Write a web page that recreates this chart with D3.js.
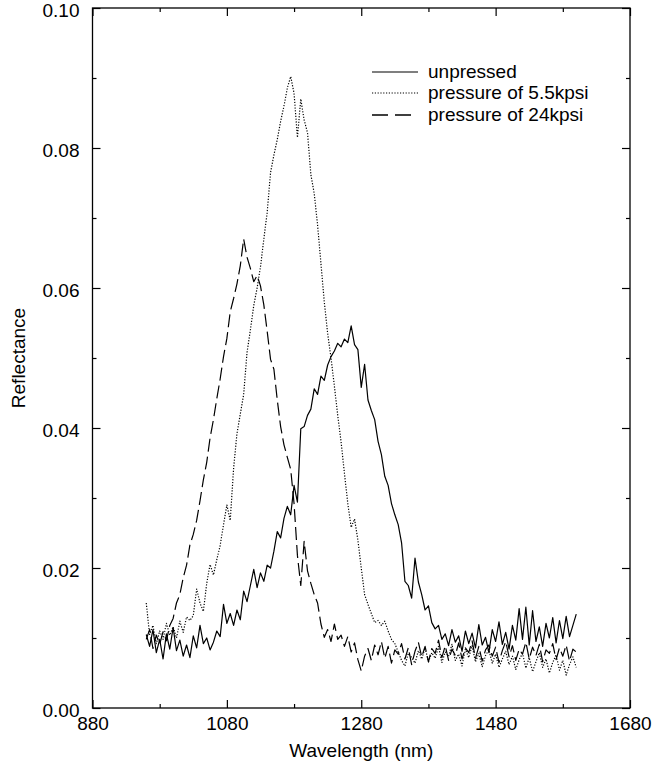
<!DOCTYPE html>
<html>
<head>
<meta charset="utf-8">
<script src="https://cdn.jsdelivr.net/npm/d3@7"></script>
<style>
  html, body { margin: 0; padding: 0; background: #fff; }
  svg text { font-family: "Liberation Sans", Arial, Helvetica, sans-serif; fill: #000; }
</style>
</head>
<body>
<svg id="chart" width="652" height="766"></svg>
<script>
// ---- data ----
const wavelengths = [
  960,965,970,975,980,985,990,995,1000,1005,
  1010,1015,1020,1025,1030,1035,1040,1045,1050,1055,
  1060,1065,1070,1075,1080,1085,1090,1095,1100,1105,
  1110,1115,1120,1125,1130,1135,1140,1145,1150,1155,
  1160,1165,1170,1175,1180,1185,1190,1195,1200,1205,
  1210,1215,1220,1225,1230,1235,1240,1245,1250,1255,
  1260,1265,1270,1275,1280,1285,1290,1295,1300,1305,
  1310,1315,1320,1325,1330,1335,1340,1345,1350,1355,
  1360,1365,1370,1375,1380,1385,1390,1395,1400,1405,
  1410,1415,1420,1425,1430,1435,1440,1445,1450,1455,
  1460,1465,1470,1475,1480,1485,1490,1495,1500,1505,
  1510,1515,1520,1525,1530,1535,1540,1545,1550,1555,
  1560,1565,1570,1575,1580,1585,1590,1595,1600
];
const unpressed = [
  .0105,.0088,.0112,.0079,.0098,.0070,.0106,.0084,.0115,.0082,
  .0097,.0074,.0090,.0072,.0103,.0086,.0118,.0092,.0100,.0083,
  .0094,.0110,.0102,.0148,.0121,.0135,.0118,.0140,.0126,.0167,
  .0152,.0175,.0198,.0172,.0193,.0181,.0204,.0200,.0224,.0252,
  .0243,.0271,.0288,.0276,.0318,.0294,.0399,.0402,.0418,.0427,
  .0456,.0448,.0474,.0468,.0490,.0502,.0510,.0521,.0516,.0527,
  .0522,.0546,.0519,.0512,.0458,.0491,.0440,.0425,.0412,.0381,
  .0362,.0331,.0318,.0292,.0276,.0262,.0236,.0181,.0175,.0157,
  .0214,.0180,.0162,.0140,.0146,.0122,.0113,.0118,.0098,.0106,
  .0089,.0112,.0094,.0103,.0081,.0110,.0092,.0107,.0086,.0119,
  .0090,.0101,.0079,.0112,.0095,.0123,.0091,.0108,.0084,.0118,
  .0097,.0142,.0098,.0144,.0090,.0139,.0095,.0116,.0088,.0121,
  .0100,.0129,.0093,.0125,.0099,.0131,.0102,.0118,.0134
];
const pressure5_5 = [
  .0150,.0105,.0118,.0092,.0110,.0098,.0121,.0104,.0116,.0100,
  .0124,.0108,.0130,.0125,.0132,.0170,.0150,.0138,.0178,.0205,
  .0190,.0212,.0232,.0262,.0290,.0268,.0342,.0392,.0420,.0448,
  .0508,.0540,.0575,.0600,.0630,.0670,.0708,.0765,.0790,.0812,
  .0838,.0860,.0886,.0902,.0878,.0815,.0870,.0840,.0822,.0762,
  .0735,.0690,.0635,.0580,.0535,.0500,.0460,.0418,.0380,.0335,
  .0292,.0258,.0270,.0240,.0200,.0162,.0148,.0135,.0122,.0125,
  .0118,.0124,.0110,.0098,.0092,.0080,.0068,.0060,.0078,.0072,
  .0064,.0082,.0070,.0086,.0066,.0079,.0071,.0088,.0065,.0080,
  .0074,.0091,.0068,.0077,.0060,.0084,.0072,.0089,.0066,.0078,
  .0059,.0075,.0083,.0064,.0077,.0058,.0070,.0081,.0062,.0074,
  .0055,.0069,.0078,.0057,.0072,.0052,.0066,.0079,.0058,.0070,
  .0050,.0065,.0076,.0054,.0068,.0047,.0062,.0073,.0058
];
const pressure24 = [
  .0098,.0112,.0085,.0104,.0091,.0109,.0096,.0118,.0128,.0150,
  .0162,.0186,.0204,.0233,.0248,.0268,.0296,.0326,.0351,.0386,
  .0412,.0442,.0470,.0502,.0528,.0566,.0585,.0606,.0632,.0670,
  .0644,.0628,.0609,.0618,.0603,.0576,.0538,.0498,.0484,.0440,
  .0402,.0376,.0358,.0341,.0292,.0218,.0175,.0238,.0196,.0178,
  .0162,.0150,.0120,.0101,.0112,.0095,.0120,.0098,.0104,.0088,
  .0102,.0080,.0093,.0069,.0053,.0074,.0085,.0068,.0090,.0076,
  .0095,.0071,.0088,.0064,.0083,.0077,.0092,.0070,.0086,.0062,
  .0081,.0094,.0073,.0088,.0066,.0085,.0078,.0097,.0072,.0089,
  .0068,.0084,.0075,.0093,.0070,.0086,.0079,.0096,.0071,.0088,
  .0067,.0083,.0090,.0074,.0087,.0065,.0082,.0095,.0073,.0089,
  .0068,.0084,.0077,.0094,.0070,.0087,.0075,.0091,.0066,.0083,
  .0078,.0092,.0069,.0086,.0074,.0090,.0067,.0084,.0080
];
const seriesNames = ["unpressed", "pressure of 5.5kpsi", "pressure of 24kpsi"];
const xMajorTicks = [880, 1080, 1280, 1480, 1680];
const xMinorTicks = [980, 1180, 1380, 1580];
const yMajorTicks = [0, 0.02, 0.04, 0.06, 0.08, 0.10];
const yMinorTicks = [0.01, 0.03, 0.05, 0.07, 0.09];

// ---- layout ----
const svg = d3.select("#chart");
const L = 92.5, R = 630, T = 8, B = 708;
const FS = 19;
const x = d3.scaleLinear().domain([880, 1680]).range([L, R]);
const y = d3.scaleLinear().domain([0, 0.10]).range([B, T]);

const styles = [
  { dash: null, legendDash: null },
  { dash: "1.2,1.6", legendDash: "1.2,1.6" },
  { dash: "13,5", legendDash: "16,7" }
];
const seriesData = [unpressed, pressure5_5, pressure24];

svg.append("defs").append("clipPath").attr("id", "clip")
  .append("rect").attr("x", L).attr("y", T).attr("width", R - L).attr("height", B - T);

const line = d3.line().x((d, i) => x(wavelengths[i])).y(d => y(d));
const plot = svg.append("g").attr("clip-path", "url(#clip)");
seriesData.forEach((vals, k) => {
  plot.append("path")
    .datum(vals)
    .attr("d", line)
    .attr("fill", "none")
    .attr("stroke", "#000")
    .attr("stroke-width", 1.2)
    .attr("stroke-linejoin", "round")
    .attr("stroke-dasharray", styles[k].dash);
});

// ---- axes ----
function styleAxis(g) {
  g.select(".domain").remove();
  g.selectAll(".tick line").attr("stroke", "#000").attr("stroke-width", 1.2);
  g.selectAll("text").style("font-size", FS + "px").attr("fill", "#000");
}
svg.append("g").attr("transform", `translate(0,${B})`)
  .call(d3.axisBottom(x).tickValues(xMajorTicks).tickSize(-8).tickPadding(9).tickFormat(d3.format("d")))
  .call(styleAxis);
svg.append("g").attr("transform", `translate(0,${B})`)
  .call(d3.axisBottom(x).tickValues(xMinorTicks).tickSize(-4).tickFormat(""))
  .call(styleAxis);
svg.append("g").attr("transform", `translate(0,${T})`)
  .call(d3.axisTop(x).tickValues(xMajorTicks).tickSize(-8).tickFormat(""))
  .call(styleAxis);
svg.append("g").attr("transform", `translate(0,${T})`)
  .call(d3.axisTop(x).tickValues(xMinorTicks).tickSize(-4).tickFormat(""))
  .call(styleAxis);
const yl = svg.append("g").attr("transform", `translate(${L},0)`)
  .call(d3.axisLeft(y).tickValues(yMajorTicks).tickSize(-8).tickPadding(13).tickFormat(d3.format(".2f")))
  .call(styleAxis);
yl.selectAll("text").attr("dy", "0.45em");
svg.append("g").attr("transform", `translate(${L},0)`)
  .call(d3.axisLeft(y).tickValues(yMinorTicks).tickSize(-4).tickFormat(""))
  .call(styleAxis);
svg.append("g").attr("transform", `translate(${R},0)`)
  .call(d3.axisRight(y).tickValues(yMajorTicks).tickSize(-8).tickFormat(""))
  .call(styleAxis);
svg.append("g").attr("transform", `translate(${R},0)`)
  .call(d3.axisRight(y).tickValues(yMinorTicks).tickSize(-4).tickFormat(""))
  .call(styleAxis);

// frame
svg.append("rect").attr("x", L).attr("y", T).attr("width", R - L).attr("height", B - T)
  .attr("fill", "none").attr("stroke", "#000").attr("stroke-width", 1.3);

// axis titles
svg.append("text").attr("x", (L + R) / 2).attr("y", 757).attr("text-anchor", "middle")
  .style("font-size", FS + "px").text("Wavelength (nm)");
svg.append("text").attr("transform", `translate(25,${(T + B) / 2}) rotate(-90)`)
  .attr("text-anchor", "middle").style("font-size", FS + "px").text("Reflectance");

// legend
const legY = [72, 93, 115];
const leg = svg.append("g");
seriesNames.forEach((name, k) => {
  leg.append("line").attr("x1", 372).attr("x2", 418).attr("y1", legY[k]).attr("y2", legY[k])
    .attr("stroke", "#000").attr("stroke-width", k === 2 ? 1.6 : 1.1)
    .attr("stroke-dasharray", styles[k].legendDash);
  leg.append("text").attr("x", 428).attr("y", legY[k] + 6).style("font-size", FS + "px").text(name);
});
</script>
</body>
</html>
